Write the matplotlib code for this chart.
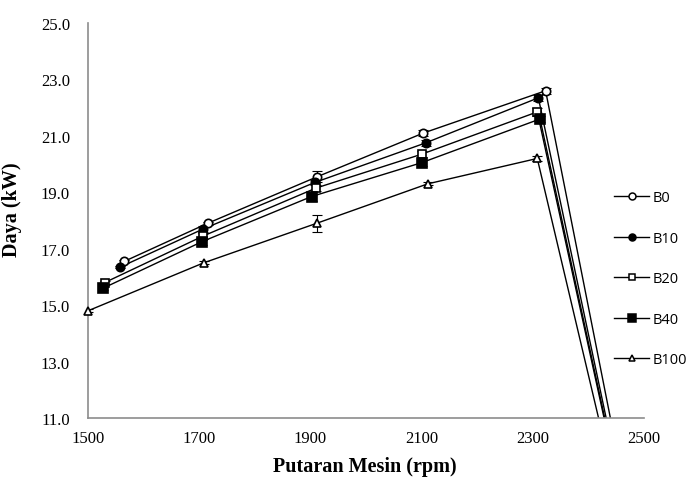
import matplotlib
matplotlib.use('Agg')
import matplotlib.pyplot as plt
from matplotlib.lines import Line2D

# putaran mesin (rpm) dan daya (kW) tiap bahan bakar
rpm_b0 = [1565, 1715, 1912, 2103, 2323, 2550]
daya_b0 = [16.55, 17.9, 19.55, 21.1, 22.6, 0.0]
err_b0 = [0.05, 0.05, 0.2, 0.1, 0.1, 0.0]

rpm_b10 = [1558, 1707, 1908, 2107, 2310, 2550]
daya_b10 = [16.35, 17.7, 19.35, 20.75, 22.35, 0.0]
err_b10 = [0.05, 0.1, 0.1, 0.1, 0.1, 0.0]

rpm_b20 = [1530, 1707, 1910, 2100, 2308, 2550]
daya_b20 = [15.8, 17.45, 19.15, 20.35, 21.85, 0.0]
err_b20 = [0.05, 0.1, 0.1, 0.1, 0.15, 0.0]

rpm_b40 = [1527, 1705, 1902, 2100, 2313, 2550]
daya_b40 = [15.6, 17.25, 18.85, 20.05, 21.6, 0.0]
err_b40 = [0.05, 0.1, 0.15, 0.1, 0.1, 0.0]

rpm_b100 = [1500, 1708, 1911, 2111, 2308, 2550]
daya_b100 = [14.8, 16.5, 17.9, 19.3, 20.2, 0.0]
err_b100 = [0.05, 0.05, 0.3, 0.05, 0.1, 0.0]

labels = ['B0', 'B10', 'B20', 'B40', 'B100']
xticks = [1500, 1700, 1900, 2100, 2300, 2500]
yticks = [11.0, 13.0, 15.0, 17.0, 19.0, 21.0, 23.0, 25.0]

fig = plt.figure(figsize=(6.86, 4.81), dpi=100)
ax = fig.add_axes([0.1283, 0.1289, 0.8105, 0.8211])

series = [
    (rpm_b0, daya_b0, err_b0, 'o', 'white', 6),
    (rpm_b10, daya_b10, err_b10, 'o', 'black', 6),
    (rpm_b20, daya_b20, err_b20, 's', 'white', 6),
    (rpm_b40, daya_b40, err_b40, 's', 'black', 6.5),
    (rpm_b100, daya_b100, err_b100, '^', 'white', 5.5),
]

handles = []
for (x, y, e, m, fc, ms), lab in zip(series, labels):
    ax.errorbar(x, y, yerr=e, color='black', lw=1.0, capsize=3.5,
                elinewidth=0.8, capthick=0.8)
    # titik data (tanpa titik akhir di luar sumbu) tidak dipotong tepi sumbu
    ax.plot(x[:-1], y[:-1], ls='none', marker=m, ms=ms, mfc=fc,
            mec='black', mew=1.2, clip_on=False, zorder=4)
    handles.append(Line2D([], [], color='black', lw=1.0, marker=m,
                          ms=ms - 1, mfc=fc, mec='black', mew=1.1, label=lab))

ax.set_xlim(1500, 2500)
ax.set_ylim(11.0, 25.0)
ax.set_xticks(xticks)
ax.set_yticks(yticks)
ax.set_yticklabels([f'{v:.1f}' for v in yticks])

for s in ['top', 'right']:
    ax.spines[s].set_visible(False)
for s in ['left', 'bottom']:
    ax.spines[s].set_color('#8c8c8c')
    ax.spines[s].set_linewidth(1.2)

ax.tick_params(axis='both', length=0, labelsize=12, colors='black')
ax.tick_params(axis='y', pad=13)
ax.tick_params(axis='x', pad=9)
for t in ax.get_xticklabels() + ax.get_yticklabels():
    t.set_family('Liberation Serif')

ax.set_xlabel('Putaran Mesin (rpm)', family='Liberation Serif',
              fontweight='bold', fontsize=14.5)
ax.set_ylabel('Daya (kW)', family='Liberation Serif',
              fontweight='bold', fontsize=14.5)
ax.xaxis.set_label_coords(0.498, -0.095)
ax.yaxis.set_label_coords(-0.118, 0.53)

fig.legend(handles=handles, loc='center left', bbox_to_anchor=(0.885, 0.418),
           frameon=False, borderpad=0, handlelength=2.4,
           handletextpad=0.2, labelspacing=1.75,
           prop={'family': 'Open Sans', 'size': 10.5})

fig.savefig('out.png', dpi=100)
